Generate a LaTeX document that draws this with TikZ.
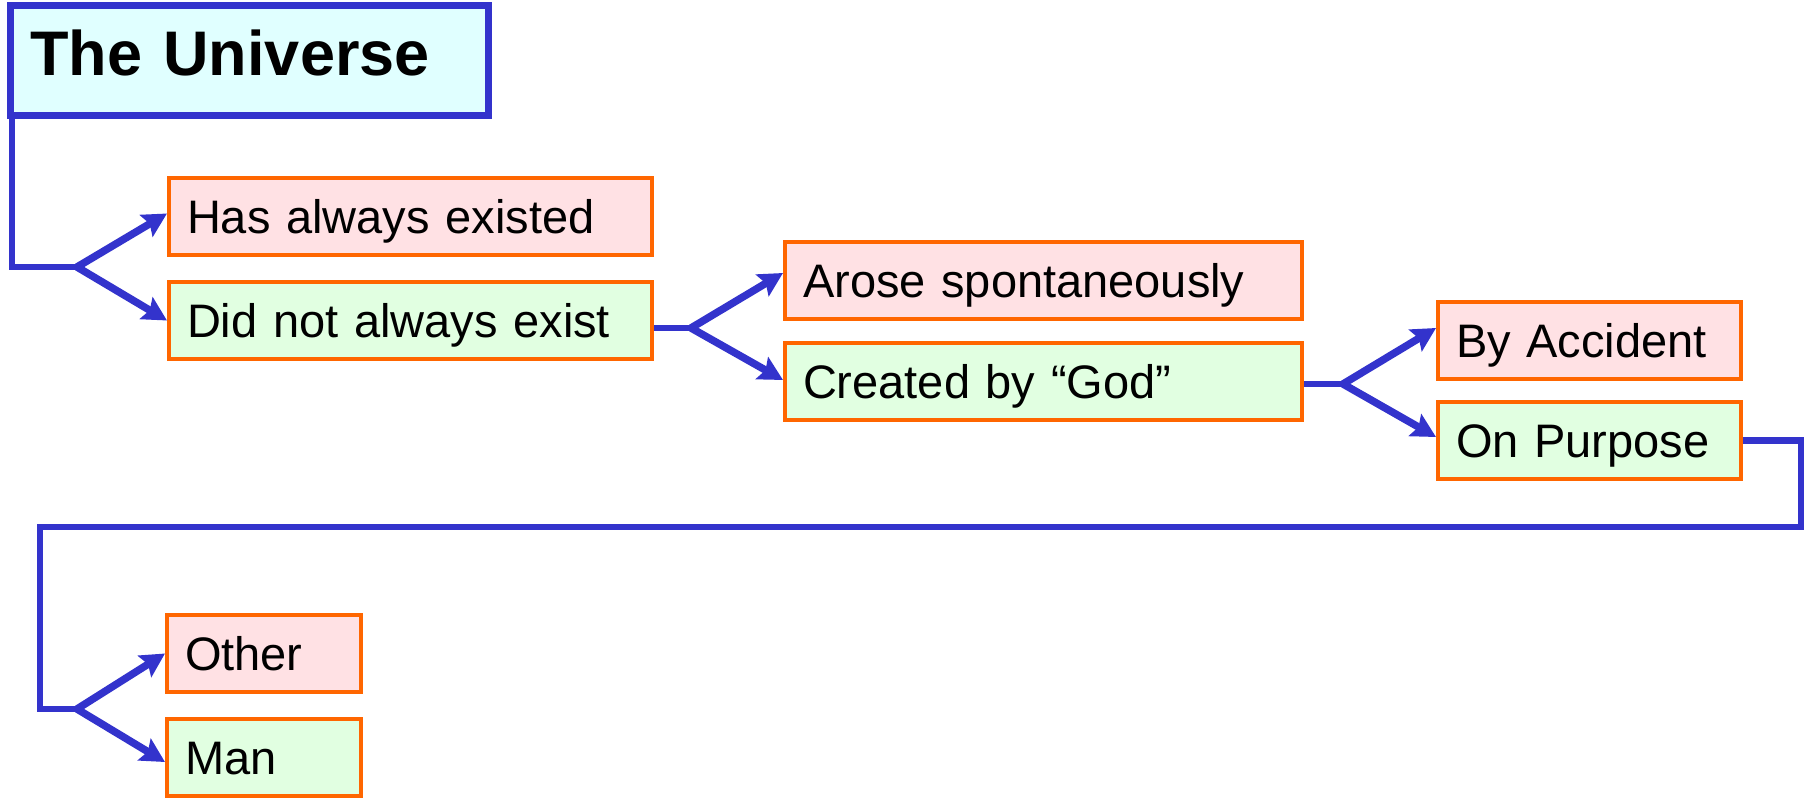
\documentclass[tikz,border=0pt]{standalone}
\usepackage{fontspec}
\setmainfont{Liberation Sans}
\usetikzlibrary{arrows.meta}
\definecolor{linkblue}{HTML}{3333CC}
\definecolor{boxorange}{HTML}{FF6600}
\definecolor{pinkfill}{HTML}{FFE1E4}
\definecolor{greenfill}{HTML}{E1FFE1}
\definecolor{cyanfill}{HTML}{E0FFFF}
\begin{document}
\begin{tikzpicture}
  [
    x=1pt, y=-1pt,
    titlebox/.style={draw=linkblue, fill=cyanfill, line width=7pt,
    anchor=north west, align=left, text width=438pt, inner xsep=20pt,
    minimum height=110pt, text height=45pt, text depth=15pt,
    font=\fontsize{63}{70}\selectfont\bfseries},
    choice/.style={draw=boxorange, line width=4pt, anchor=west,
    align=left, text width=#1, inner xsep=18pt,
    minimum height=77pt, text height=34pt, text depth=0pt,
    font=\fontsize{47}{56}\selectfont},
    pinkbox/.style={fill=pinkfill},
    greenbox/.style={fill=greenfill},
    link/.style={draw=linkblue, line width=6.5pt},
    arrow/.style={draw=linkblue, line width=7.5pt,
    -{Stealth[length=24pt,width=25pt,inset=4pt]}}
  ]
  \useasboundingbox (0,0) rectangle (1806,800);

  \node (universe) at (7,2) [titlebox] {The Universe};

  \node (has)      at ( 167,216.5) [choice=447pt, pinkbox]  {Has always existed};
  \node (did)      at ( 167,320.5) [choice=447pt, greenbox] {Did not always exist};
  \node (arose)    at ( 783,280.0) [choice=481pt, pinkbox]  {Arose spontaneously};
  \node (created)  at ( 783,381.5) [choice=481pt, greenbox] {Created by “God”};
  \node (accident) at (1436,340.0) [choice=267pt, pinkbox]  {By Accident};
  \node (purpose)  at (1436,440.5) [choice=267pt, greenbox] {On Purpose};
  \node (other)    at ( 165,653.5) [choice=158pt, pinkbox]  {Other};
  \node (man)      at ( 165,757.0) [choice=158pt, greenbox] {Man};

  \coordinate (fork1) at (77,267);
  \coordinate (fork2) at (691,328);
  \coordinate (fork3) at (1343,384);
  \coordinate (fork4) at (77,709);
  \coordinate (turnE) at (1801,527);
  \coordinate (turnW) at (40,527);

  \draw [link] ([xshift=5pt]universe.south west) |- (fork1);
  \draw [arrow] (fork1) -- ([yshift=3pt]has.west);
  \draw [arrow] (fork1) -- (did.west);

  \draw [link] (did.east |- fork2) -- (fork2);
  \draw [arrow] (fork2) -- ([yshift=7pt]arose.west);
  \draw [arrow] (fork2) -- ([yshift=1.5pt]created.west);

  \draw [link] (created.east |- fork3) -- (fork3);
  \draw [arrow] (fork3) -- ([yshift=12pt]accident.west);
  \draw [arrow] (fork3) -- ([yshift=3.5pt]purpose.west);

  \draw [link] (purpose.east) -| (turnE) -- (turnW) |- (fork4);
  \draw [arrow] (fork4) -- (other.west);
  \draw [arrow] (fork4) -- ([yshift=-5pt]man.west);
\end{tikzpicture}
\end{document}
